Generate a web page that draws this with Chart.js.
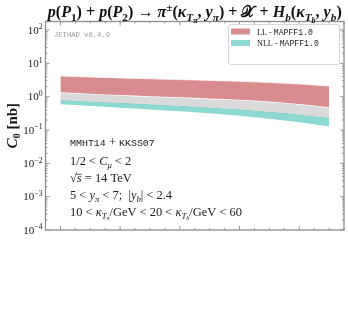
<!DOCTYPE html>
<html>
<head>
<meta charset="utf-8">
<script src="https://cdn.jsdelivr.net/npm/chart.js@4.4.1/dist/chart.umd.min.js"></script>
<style>
    html, body { margin: 0; padding: 0; background: #fff; }
    canvas { display: block; }
</style>
</head>
<body>
<canvas id="c0-chart" width="349" height="328"></canvas>
<script>
// values (C0 in nb vs the x variable)
const xValues = [3, 3.5, 4, 4.5, 5, 5.5, 6, 6.5, 7, 7.5];
const llUpper = [4.17, 3.89, 3.63, 3.44, 3.25, 3.08, 2.89, 2.66, 2.40, 2.09];
const llLower = [1.35, 1.23, 1.12, 1.03, 0.957, 0.881, 0.805, 0.716, 0.603, 0.483];
const nllUpper = [0.794, 0.716, 0.655, 0.594, 0.536, 0.476, 0.418, 0.354, 0.292, 0.232];
const nllLower = [0.590, 0.525, 0.467, 0.415, 0.366, 0.317, 0.267, 0.217, 0.170, 0.127];

const xMajorTicks = [3, 4, 5, 6, 7];
const yDecades = [-4, -3, -2, -1, 0, 1, 2];
const legendNames = ['LL', 'NLL'];
const legendPdf = 'MAPFF1.0';

const RED = 'rgb(217, 140, 141)';
const GREY = 'rgb(218, 218, 218)';
const CYAN = 'rgb(140, 216, 210)';
const SERIF = '"Liberation Serif", "DejaVu Serif", serif';
const MONO = '"Liberation Mono", "DejaVu Sans Mono", monospace';

// --- small rich text helper: [text, style, level, family, overline]
// level 0 normal, 1 subscript, -1 superscript, 2 sub-subscript
function segFont(seg, size) {
    const st = seg[1] || 'n';
    const lvl = seg[2] || 0;
    const fam = seg[3] || SERIF;
    let s = size;
    if (lvl === 1 || lvl === -1) s = size * 0.7;
    if (lvl === 2) s = size * 0.5;
    // typewriter text runs narrower in the reference
    if (fam === MONO && seg[5]) s = s * seg[5];
    let pre = '';
    if (st.includes('i')) pre += 'italic ';
    if (st.includes('b')) pre += 'bold ';
    return pre + s.toFixed(2) + 'px ' + fam;
}
function segShift(seg, size) {
    const lvl = seg[2] || 0;
    if (lvl === 1) return size * 0.22;
    if (lvl === -1) return -size * 0.38;
    if (lvl === 2) return size * 0.36;
    return 0;
}
function richWidth(ctx, segs, size) {
    let w = 0;
    segs.forEach(seg => {
        ctx.font = segFont(seg, size);
        w += ctx.measureText(seg[0]).width;
    });
    return w;
}
function fitSize(ctx, segs, target, base) {
    return base * target / richWidth(ctx, segs, base);
}
function drawRich(ctx, segs, x, y, size, align, color) {
    let cx = x;
    if (align === 'center') cx = x - richWidth(ctx, segs, size) / 2;
    if (align === 'right') cx = x - richWidth(ctx, segs, size);
    ctx.fillStyle = color || '#1a1a1a';
    ctx.strokeStyle = color || '#1a1a1a';
    ctx.textBaseline = 'alphabetic';
    ctx.textAlign = 'left';
    segs.forEach(seg => {
        ctx.font = segFont(seg, size);
        const w = ctx.measureText(seg[0]).width;
        const dy = segShift(seg, size);
        ctx.fillText(seg[0], cx, y + dy);
        if (seg[4]) {
            ctx.lineWidth = 0.7;
            ctx.beginPath();
            ctx.moveTo(cx - 1, y + dy - size * 0.62);
            ctx.lineTo(cx + w + 0.5, y + dy - size * 0.62);
            ctx.stroke();
        }
        cx += w;
    });
}

const titleSegs = [
    ['p', 'bi'], ['(', 'b'], ['P', 'bi'], ['1', 'b', 1], [') + ', 'b'],
    ['p', 'bi'], ['(', 'b'], ['P', 'bi'], ['2', 'b', 1], [') \u2192 ', 'b'],
    ['\u03c0', 'bi'], ['\u00b1', 'b', -1], ['(', 'b'], ['\u03ba', 'bi'], ['T', 'bi', 1], ['\u03c0', 'bi', 2],
    [', ', 'b'], ['y', 'bi'], ['\u03c0', 'bi', 1], [') + ', 'b'], ['\ud835\udcb3', 'b'], [' + ', 'b'],
    ['H', 'bi'], ['b', 'bi', 1], ['(', 'b'], ['\u03ba', 'bi'], ['T', 'bi', 1], ['b', 'bi', 2],
    [', ', 'b'], ['y', 'bi'], ['b', 'bi', 1], [')', 'b']
];

const infoLines = [
    [['MMHT14', 'n', 0, MONO, false, 0.8], [' + ', 'n'], ['KKSS07', 'n', 0, MONO, false, 0.8]],
    [['1/2 < ', 'n'], ['C', 'i'], ['\u03bc', 'i', 1], [' < 2', 'n']],
    [['\u221a', 'n'], ['s', 'i', 0, SERIF, true], [' = 14 TeV', 'n']],
    [['5 < ', 'n'], ['y', 'i'], ['\u03c0', 'i', 1], [' < 7;  |', 'n'], ['y', 'i'], ['b', 'i', 1], ['| < 2.4', 'n']],
    [['10 < ', 'n'], ['\u03ba', 'i'], ['T', 'i', 1], ['\u03c0', 'i', 2], ['/GeV < 20 < ', 'n'],
     ['\u03ba', 'i'], ['T', 'i', 1], ['b', 'i', 2], ['/GeV < 60', 'n']]
];
const infoY = [146, 165, 182, 199, 216];

const decorPlugin = {
    id: 'decor',
    afterDraw(chart) {
        const ctx = chart.ctx;
        const area = chart.chartArea;
        const xs = chart.scales.x;
        const ys = chart.scales.y;
        ctx.save();

        // frame
        ctx.strokeStyle = '#8c8c8c';
        ctx.lineWidth = 1.3;
        ctx.strokeRect(area.left, area.top, area.right - area.left, area.bottom - area.top);

        // inward ticks on all four sides
        ctx.lineWidth = 0.9;
        ctx.beginPath();
        for (let v = xs.min; v <= xs.max + 1e-9; v += 0.25) {
            const px = xs.getPixelForValue(v);
            const len = xMajorTicks.some(t => Math.abs(t - v) < 1e-6) ? 4 : 2;
            ctx.moveTo(px, area.bottom); ctx.lineTo(px, area.bottom - len);
            ctx.moveTo(px, area.top); ctx.lineTo(px, area.top + len);
        }
        yDecades.forEach(d => {
            for (let m = 1; m <= 9; m++) {
                const v = m * Math.pow(10, d);
                if (v < ys.min || v > ys.max) continue;
                const py = ys.getPixelForValue(v);
                const len = m === 1 ? 4 : 2;
                ctx.moveTo(area.left, py); ctx.lineTo(area.left + len, py);
                ctx.moveTo(area.right, py); ctx.lineTo(area.right - len, py);
            }
        });
        ctx.stroke();

        // y tick labels 10^n
        yDecades.forEach(d => {
            const py = ys.getPixelForValue(Math.pow(10, d));
            const exp = d < 0 ? '\u2212' + Math.abs(d) : String(d);
            drawRich(ctx, [['10', 'n'], [exp, 'n', -1]], area.left - 3, py + 3.5, 11, 'right', '#1a1a1a');
        });

        // y axis title
        ctx.save();
        ctx.translate(17, (area.top + area.bottom) / 2);
        ctx.rotate(-Math.PI / 2);
        drawRich(ctx, [['C', 'bi'], ['0', 'b', 1], [' [nb]', 'b']], 0, 0, 15, 'center', '#1a1a1a');
        ctx.restore();

        // title
        const tSize = fitSize(ctx, titleSegs, 294, 14);
        drawRich(ctx, titleSegs, (area.left + area.right) / 2, 17, tSize, 'center', '#111');

        // program tag
        const tagSegs = [['JETHAD v0.4.9', 'n', 0, MONO]];
        drawRich(ctx, tagSegs, 54, 37, fitSize(ctx, tagSegs, 56, 8), 'left', '#9a9a9a');

        // info block
        const iSize = fitSize(ctx, infoLines[4], 172, 10);
        infoLines.forEach((segs, i) => drawRich(ctx, segs, 70, infoY[i], iSize, 'left', '#1a1a1a'));

        // legend
        ctx.fillStyle = 'rgba(255,255,255,0.9)';
        ctx.strokeStyle = '#d4d4d4';
        ctx.lineWidth = 0.9;
        ctx.beginPath();
        ctx.roundRect(228.5, 24.5, 111, 40, 2);
        ctx.fill();
        ctx.stroke();
        const swatch = [RED, CYAN];
        const lSegs0 = [[legendNames[0] + ' - ', 'n'], [legendPdf, 'n', 0, MONO]];
        const lSize = fitSize(ctx, lSegs0, 56, 8);
        legendNames.forEach((name, i) => {
            const cy = 31.5 + i * 11.5;
            ctx.fillStyle = swatch[i];
            ctx.fillRect(231, cy - 3, 19, 6);
            drawRich(ctx, [[name + ' - ', 'n'], [legendPdf, 'n', 0, MONO]], 257, cy + 3, lSize, 'left', '#1a1a1a');
        });

        ctx.restore();
    }
};

const toPoints = arr => arr.map((v, i) => ({ x: xValues[i], y: v }));

const ctx = document.getElementById('c0-chart').getContext('2d');
const c0Chart = new Chart(ctx, {
    type: 'line',
    data: {
        datasets: [{
            label: 'LL - MAPFF1.0',
            data: toPoints(llUpper),
            fill: '+1',
            backgroundColor: RED,
            borderColor: 'rgba(255,255,255,0.7)',
            borderWidth: 1
        }, {
            label: 'LL lower',
            data: toPoints(llLower),
            fill: '+1',
            backgroundColor: GREY,
            borderColor: '#ffffff',
            borderWidth: 1.3
        }, {
            label: 'NLL - MAPFF1.0',
            data: toPoints(nllUpper),
            fill: '+1',
            backgroundColor: CYAN,
            borderColor: 'rgba(110,150,150,0.35)',
            borderWidth: 0.8
        }, {
            label: 'NLL lower',
            data: toPoints(nllLower),
            fill: false,
            borderColor: 'rgba(255,255,255,0.5)',
            borderWidth: 0.8
        }]
    },
    options: {
        responsive: false,
        animation: false,
        devicePixelRatio: 1,
        layout: { padding: { left: 45.5, right: 5, top: 21.5, bottom: 98 } },
        plugins: {
            legend: { display: false },
            tooltip: { enabled: false }
        },
        elements: {
            point: { radius: 0 },
            line: { tension: 0.4, cubicInterpolationMode: 'monotone' }
        },
        scales: {
            x: { type: 'linear', min: 2.75, max: 7.75, display: false },
            y: { type: 'logarithmic', min: 1e-4, max: 180, display: false }
        }
    },
    plugins: [decorPlugin]
});
</script>
</body>
</html>
